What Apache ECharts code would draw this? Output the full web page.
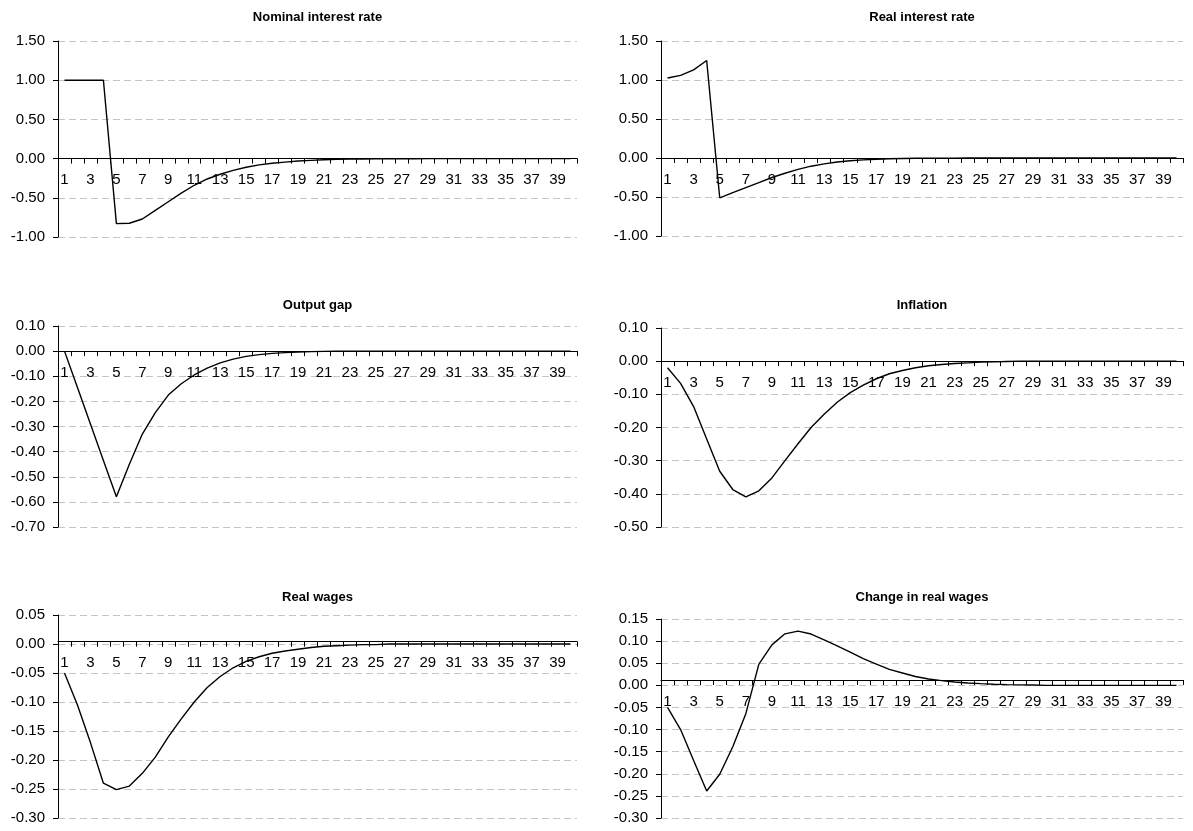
<!DOCTYPE html>
<html><head><meta charset="utf-8">
<script src="https://cdn.jsdelivr.net/npm/echarts@6/dist/echarts.min.js"></script>
<style>html,body{margin:0;padding:0;background:#fff}#c{width:1193px;height:831px}</style>
</head><body><div id="c"></div>
<script>
const periods = ['1','2','3','4','5','6','7','8','9','10','11','12','13','14','15','16','17','18','19','20',
  '21','22','23','24','25','26','27','28','29','30','31','32','33','34','35','36','37','38','39','40'];
const titles = ['Nominal interest rate','Real interest rate','Output gap','Inflation','Real wages','Change in real wages'];
const nominalRate = [1.00, 1.00, 1.00, 1.00, -0.83, -0.825, -0.77, -0.66, -0.55, -0.44, -0.34, -0.26, -0.20, -0.15, -0.11, -0.08, -0.06, -0.045, -0.03, -0.022,
  -0.015, -0.01, -0.007, -0.005, -0.003, -0.002, -0.001, -0.001, 0, 0, 0, 0, 0, 0, 0, 0, 0, 0, 0, 0];
const realRate = [1.025, 1.06, 1.13, 1.25, -0.51, -0.445, -0.38, -0.315, -0.25, -0.195, -0.145, -0.105, -0.075, -0.052, -0.036, -0.024, -0.016, -0.01, -0.007, -0.004,
  -0.003, -0.002, -0.001, 0, 0, 0, 0, 0, 0, 0, 0, 0, 0, 0, 0, 0, 0, 0, 0, 0];
const outputGap = [0, -0.145, -0.29, -0.435, -0.58, -0.45, -0.33, -0.245, -0.175, -0.13, -0.095, -0.068, -0.047, -0.032, -0.021, -0.014, -0.009, -0.006, -0.004, -0.002,
  -0.001, 0, 0, 0, 0, 0, 0, 0, 0, 0, 0, 0, 0, 0, 0, 0, 0, 0, 0, 0];
const inflation = [-0.02, -0.067, -0.137, -0.235, -0.332, -0.387, -0.409, -0.391, -0.352, -0.30, -0.249, -0.20, -0.16, -0.124, -0.095, -0.072, -0.053, -0.038, -0.028, -0.02,
  -0.014, -0.01, -0.007, -0.005, -0.003, -0.002, -0.001, 0, 0, 0, 0, 0, 0, 0, 0, 0, 0, 0, 0, 0];
const realWages = [-0.05, -0.105, -0.17, -0.24, -0.251, -0.245, -0.223, -0.195, -0.16, -0.129, -0.10, -0.075, -0.056, -0.041, -0.030, -0.022, -0.016, -0.012, -0.009, -0.006,
  -0.004, -0.003, -0.002, -0.001, -0.001, 0, 0, 0, 0, 0, 0, 0, 0, 0, 0, 0, 0, 0, 0, 0];
const realWagesChange = [-0.05, -0.10, -0.17, -0.239, -0.201, -0.139, -0.064, 0.048, 0.0915, 0.1165, 0.1225, 0.116, 0.103, 0.089, 0.075, 0.0605, 0.048, 0.036, 0.028, 0.02,
  0.0144, 0.0106, 0.0076, 0.0053, 0.0038, 0.0025, 0.0015, 0.001, 0.0006, 0, 0, 0, 0, 0, 0, 0, 0, 0, 0, 0];
const yMin = [-1, -1, -0.7, -0.5, -0.3, -0.3];
const yMax = [1.5, 1.5, 0.1, 0.1, 0.05, 0.15];
const yStep = [0.5, 0.5, 0.1, 0.1, 0.05, 0.05];

const seriesData = [nominalRate, realRate, outputGap, inflation, realWages, realWagesChange];
const boxes = [
  {left: 58, top: 41, width: 519, height: 196},
  {left: 661, top: 41, width: 522, height: 195},
  {left: 58, top: 326, width: 519, height: 201},
  {left: 661, top: 328, width: 522, height: 199},
  {left: 58, top: 615, width: 519, height: 203},
  {left: 661, top: 619, width: 522, height: 199}
];
const titleY = [17.5, 17.5, 305, 305, 597, 597];
const FONT = '"Liberation Sans", Arial, sans-serif';

const option = {
  animation: false,
  backgroundColor: '#fff',
  title: titles.map((t, i) => ({
    text: t,
    left: boxes[i].left + boxes[i].width / 2,
    top: titleY[i] - 8,
    textAlign: 'center',
    padding: 0,
    textStyle: {fontFamily: FONT, fontSize: 13, fontWeight: 'bold', color: '#000', lineHeight: 16}
  })),
  grid: boxes.map(b => ({left: b.left, top: b.top, width: b.width, height: b.height, containLabel: false})),
  xAxis: boxes.map((b, i) => ({
    type: 'category',
    gridIndex: i,
    position: 'bottom',
    offset: 0,
    data: periods,
    boundaryGap: true,
    axisLine: {show: true, onZero: false, lineStyle: {color: '#000', width: 1}},
    axisTick: {show: true, interval: 0, length: 5, inside: false, lineStyle: {color: '#000', width: 1}},
    axisLabel: {interval: 1, margin: 14, fontSize: 15, color: '#000', fontFamily: FONT},
    splitLine: {show: false}
  })),
  yAxis: boxes.map((b, i) => ({
    type: 'value',
    gridIndex: i,
    min: yMin[i],
    max: yMax[i],
    interval: yStep[i],
    axisLine: {show: true, lineStyle: {color: '#000', width: 1}},
    axisTick: {show: true, length: 5, lineStyle: {color: '#000', width: 1}},
    axisLabel: {
      margin: 13, fontSize: 15, color: '#000', fontFamily: FONT,
      formatter: v => (Math.abs(v) < 1e-9 ? '0.00' : v.toFixed(2))
    },
    splitLine: {show: true, lineStyle: {color: '#c4c4c4', width: 1, type: [7, 4]}}
  })),
  series: seriesData.map((d, i) => ({
    type: 'line',
    name: titles[i],
    xAxisIndex: i,
    yAxisIndex: i,
    data: d,
    symbol: 'none',
    showSymbol: false,
    lineStyle: {color: '#000', width: 1.4},
    z: 3
  }))
};
const chart = echarts.init(document.getElementById('c'), null, {renderer: 'canvas'});
chart.setOption(option);
// Move each category axis (line, ticks and labels) to the y = 0 level, using the library's own scale.
const offsets = boxes.map((b, i) => {
  const zeroY = chart.convertToPixel({yAxisIndex: i}, 0);
  return zeroY - (b.top + b.height);
});
chart.setOption({xAxis: offsets.map(o => ({offset: o}))});
</script>
</body></html>
